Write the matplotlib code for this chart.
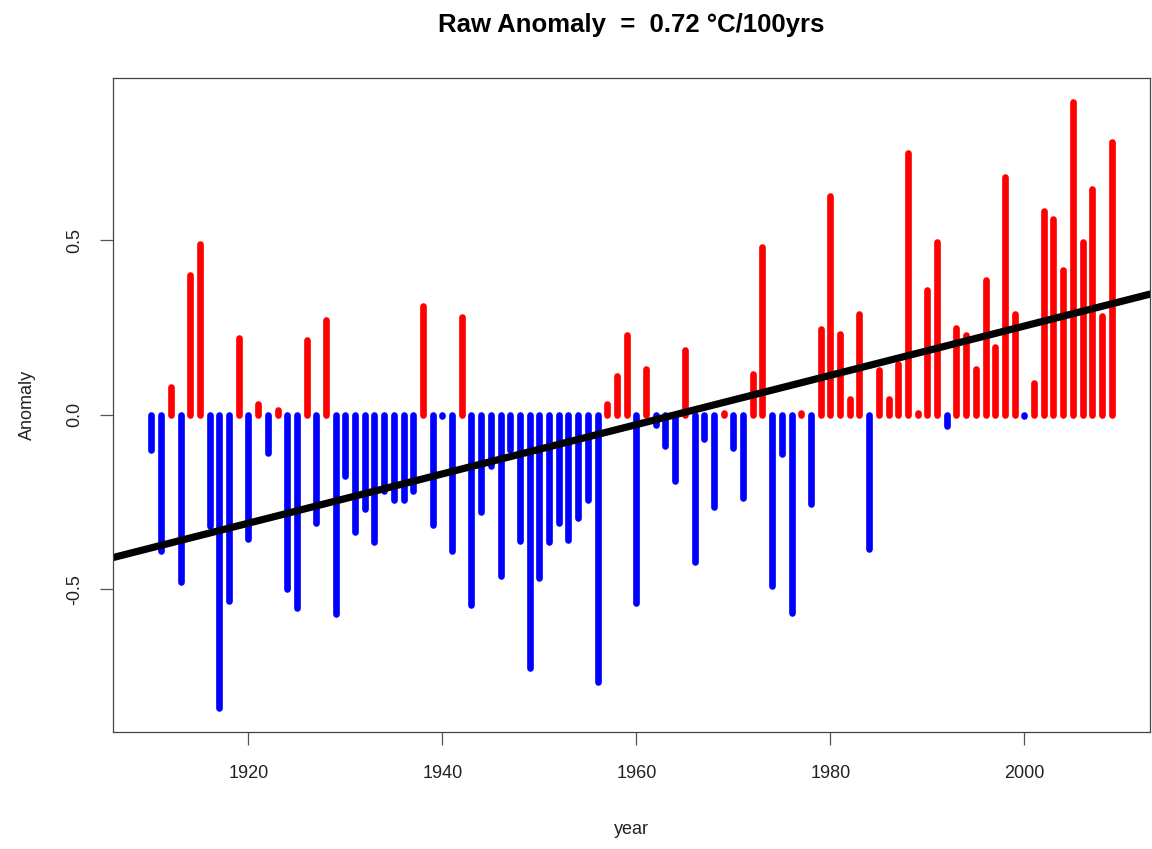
import numpy as np
import matplotlib
matplotlib.use("Agg")
import matplotlib.pyplot as plt

years = np.arange(1910, 2010)
anomaly = [
    -0.10, -0.39, 0.08, -0.48, 0.40, 0.49, -0.32, -0.84, -0.535, 0.22,
    -0.355, 0.03, -0.11, 0.012, -0.50, -0.555, 0.215, -0.31, 0.27, -0.57,
    -0.175, -0.335, -0.27, -0.365, -0.22, -0.245, -0.245, -0.22, 0.31, -0.315,
    -0.005, -0.39, 0.28, -0.545, -0.28, -0.148, -0.463, -0.10, -0.362, -0.725,
    -0.468, -0.364, -0.31, -0.36, -0.296, -0.246, -0.765, 0.03, 0.11, 0.227,
    -0.539, 0.13, -0.031, -0.09, -0.189, 0.185, -0.422, -0.071, -0.265, 0.005,
    -0.095, -0.24, 0.117, 0.48, -0.491, -0.112, -0.568, 0.006, -0.257, 0.245,
    0.625, 0.232, 0.046, 0.289, -0.386, 0.128, 0.044, 0.146, 0.75, 0.005,
    0.356, 0.494, -0.032, 0.249, 0.227, 0.13, 0.385, 0.193, 0.68, 0.287,
    -0.004, 0.091, 0.583, 0.561, 0.415, 0.895, 0.496, 0.647, 0.282, 0.78,
]
xticks = [1920, 1940, 1960, 1980, 2000]
yticks = [-0.5, 0.0, 0.5]
ytick_labels = ["-0.5", "0.0", "0.5"]

anomaly = np.array(anomaly)
colors = np.where(anomaly >= 0, "#ff0000", "#0000ff")

plt.rcParams["font.family"] = ["Liberation Sans Narrow", "Liberation Sans"]

fig = plt.figure(figsize=(11.52, 8.49), dpi=100)
ax = fig.add_axes([0.0981, 0.1378, 0.9002, 0.7703])

ax.vlines(years, 0, anomaly, colors=colors, linewidth=4.8, capstyle="round")

# linear trend across the whole plot region
slope, intercept = np.polyfit(years, anomaly, 1)
ax.axline((0, intercept), slope=slope, color="black", linewidth=5.2)

# R-style 4% padding on both axes
xpad = 0.04 * (years.max() - years.min())
ax.set_xlim(years.min() - xpad, years.max() + xpad)
ypad = 0.04 * (anomaly.max() - anomaly.min())
ax.set_ylim(anomaly.min() - ypad, anomaly.max() + ypad)

ax.set_xticks(xticks)
ax.set_xticklabels([str(t) for t in xticks])
ax.set_yticks(yticks)
ax.set_yticklabels(ytick_labels, rotation=90, va="center")
ax.tick_params(axis="both", length=9.5, width=0.9, color="#555555",
               labelsize=13, labelcolor="#222222")
ax.tick_params(axis="x", pad=14)
ax.tick_params(axis="y", pad=12)
for side in ax.spines.values():
    side.set_color("#444444")
    side.set_linewidth(0.9)

ax.set_xlabel("year", fontsize=13, color="#222222", labelpad=28)
ax.set_ylabel("Anomaly", fontsize=13, color="#222222", labelpad=22)
ax.set_title("Raw Anomaly  =  0.72 \u00b0C/100yrs", fontsize=18.5,
             fontweight="bold", family="Liberation Sans", pad=33)

fig.savefig("out.png", dpi=100)
